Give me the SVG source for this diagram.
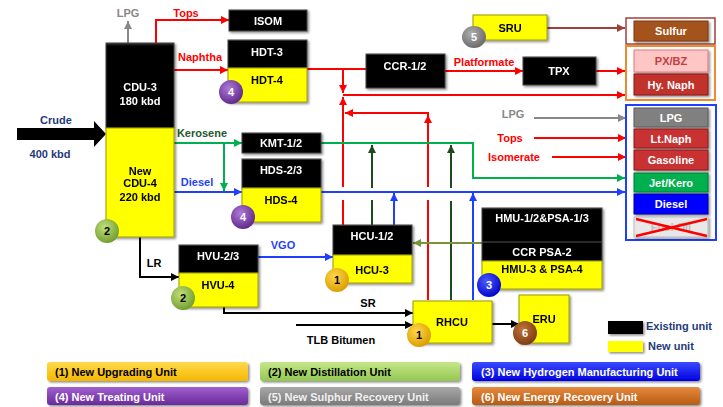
<svg xmlns="http://www.w3.org/2000/svg" width="723" height="407" viewBox="0 0 723 407">
<defs>
<style>
text{font-family:"Liberation Sans",Arial,sans-serif;font-weight:bold;font-size:11px}
.c{text-anchor:middle}
.w{fill:#fff}
.k{fill:#000}
.blk{fill:url(#gblk);stroke:#444;stroke-width:1}
.yel{fill:#ffff00;stroke:#9a9a00;stroke-width:1}
.ln{fill:none;stroke-width:2}
.red{stroke:#ff0000}
.grn{stroke:#00b050}
.blu{stroke:#1f3fff}
.dg{stroke:#1d4a1d}
.gry{stroke:#888}
.bk{stroke:#000}
.olv{stroke:#77933c}
.dr{stroke:#a0403c}
.lbl{font-size:11px}
.bar{font-size:11px}
</style>
<linearGradient id="gblk" x1="0" y1="0" x2="0" y2="1"><stop offset="0" stop-color="#333"/><stop offset="0.04" stop-color="#000"/><stop offset="1" stop-color="#000"/></linearGradient>
<filter id="sh" x="-10%" y="-10%" width="130%" height="130%"><feDropShadow dx="1.5" dy="1.5" stdDeviation="1.2" flood-opacity="0.45"/></filter>
<radialGradient id="bp" cx="0.4" cy="0.35" r="0.7"><stop offset="0" stop-color="#b07ad8"/><stop offset="1" stop-color="#5a2585"/></radialGradient>
<radialGradient id="bg" cx="0.4" cy="0.35" r="0.7"><stop offset="0" stop-color="#c2e07a"/><stop offset="1" stop-color="#6e9a2c"/></radialGradient>
<radialGradient id="by" cx="0.4" cy="0.35" r="0.7"><stop offset="0" stop-color="#ffd84a"/><stop offset="1" stop-color="#d99a00"/></radialGradient>
<radialGradient id="bb" cx="0.4" cy="0.35" r="0.7"><stop offset="0" stop-color="#4a5cff"/><stop offset="1" stop-color="#0000c8"/></radialGradient>
<radialGradient id="bgr" cx="0.4" cy="0.35" r="0.7"><stop offset="0" stop-color="#b0b0b0"/><stop offset="1" stop-color="#666"/></radialGradient>
<radialGradient id="bbr" cx="0.4" cy="0.35" r="0.7"><stop offset="0" stop-color="#c0743a"/><stop offset="1" stop-color="#7a3a10"/></radialGradient>
<marker id="aR" markerUnits="userSpaceOnUse" markerWidth="8" markerHeight="8" refX="8" refY="4" orient="auto"><path d="M0,0 L8,4 L0,8 z" fill="#ff0000"/></marker>
<marker id="aG" markerUnits="userSpaceOnUse" markerWidth="8" markerHeight="8" refX="8" refY="4" orient="auto"><path d="M0,0 L8,4 L0,8 z" fill="#00b050"/></marker>
<marker id="aB" markerUnits="userSpaceOnUse" markerWidth="8" markerHeight="8" refX="8" refY="4" orient="auto"><path d="M0,0 L8,4 L0,8 z" fill="#1f3fff"/></marker>
<marker id="aDG" markerUnits="userSpaceOnUse" markerWidth="8" markerHeight="8" refX="8" refY="4" orient="auto"><path d="M0,0 L8,4 L0,8 z" fill="#1d4a1d"/></marker>
<marker id="aGy" markerUnits="userSpaceOnUse" markerWidth="8" markerHeight="8" refX="8" refY="4" orient="auto"><path d="M0,0 L8,4 L0,8 z" fill="#888"/></marker>
<marker id="aK" markerUnits="userSpaceOnUse" markerWidth="8" markerHeight="8" refX="8" refY="4" orient="auto"><path d="M0,0 L8,4 L0,8 z" fill="#000"/></marker>
<marker id="aO" markerUnits="userSpaceOnUse" markerWidth="8" markerHeight="8" refX="8" refY="4" orient="auto"><path d="M0,0 L8,4 L0,8 z" fill="#77933c"/></marker>
<marker id="aDR" markerUnits="userSpaceOnUse" markerWidth="8" markerHeight="8" refX="8" refY="4" orient="auto"><path d="M0,0 L8,4 L0,8 z" fill="#a0403c"/></marker>
<linearGradient id="g1" x1="0" y1="0" x2="0" y2="1"><stop offset="0" stop-color="#ffd94d"/><stop offset="1" stop-color="#f5b800"/></linearGradient>
<linearGradient id="g2" x1="0" y1="0" x2="0" y2="1"><stop offset="0" stop-color="#c6e68a"/><stop offset="1" stop-color="#92c850"/></linearGradient>
<linearGradient id="g3" x1="0" y1="0" x2="0" y2="1"><stop offset="0" stop-color="#3a4cff"/><stop offset="1" stop-color="#0000e0"/></linearGradient>
<linearGradient id="g4" x1="0" y1="0" x2="0" y2="1"><stop offset="0" stop-color="#a060d0"/><stop offset="1" stop-color="#6a2a9a"/></linearGradient>
<linearGradient id="g5" x1="0" y1="0" x2="0" y2="1"><stop offset="0" stop-color="#a8a8a8"/><stop offset="1" stop-color="#7a7a7a"/></linearGradient>
<linearGradient id="g6" x1="0" y1="0" x2="0" y2="1"><stop offset="0" stop-color="#e68a3e"/><stop offset="1" stop-color="#b85a14"/></linearGradient>
</defs>
<rect width="723" height="407" fill="#fff"/>

<g id="connectors">
<path class="ln gry" d="M128,43 V21" marker-end="url(#aGy)"/>
<path class="ln red" d="M156,43 V20 H229" marker-end="url(#aR)"/>
<path class="ln red" d="M174,70 H228" marker-end="url(#aR)"/>
<path class="ln red" d="M307,69 H366"/>
<path class="ln red" d="M343,69 V93" marker-end="url(#aR)"/>
<path class="ln red" d="M343,225 V200 M343,187 V97" marker-end="url(#aR)"/>
<path class="ln red" d="M343,95 H625" marker-end="url(#aR)"/>
<path class="ln red" d="M428,300 V200 M428,187 V113 H345" marker-end="url(#aR)"/>
<path d="M424,123 L428,115 L432,123 z" fill="#ff0000"/>
<path class="ln red" d="M445,71 H523" marker-end="url(#aR)"/>
<path class="ln red" d="M596,71 H625" marker-end="url(#aR)"/>
<path class="ln dr" d="M547,28 H625" marker-end="url(#aDR)"/>
<path class="ln grn" d="M174,143 H242" marker-end="url(#aG)"/>
<path class="ln grn" d="M224,143 V191" marker-end="url(#aG)"/>
<path class="ln blu" d="M174,192 H242" marker-end="url(#aB)"/>
<path class="ln grn" d="M321,143 H473 V178 H625" marker-end="url(#aG)"/>
<path class="ln blu" d="M321,192 H625" marker-end="url(#aB)"/>
<path class="ln dg" d="M372,225 V200 M372,188 V145" marker-end="url(#aDG)"/>
<path class="ln dg" d="M451,300 V201 M451,188 V145" marker-end="url(#aDG)"/>
<path class="ln blu" d="M394,225 V193" marker-end="url(#aB)"/>
<path class="ln blu" d="M473,300 V193" marker-end="url(#aB)"/>
<path class="ln olv" d="M482,243 H413" marker-end="url(#aO)"/>
<path class="ln blu" d="M258,257 H333" marker-end="url(#aB)"/>
<path class="ln bk" d="M140,237 V277 H179" marker-end="url(#aK)"/>
<path class="ln bk" d="M224,307 V313 H413" marker-end="url(#aK)"/>
<path class="ln bk" d="M296,325 H413" marker-end="url(#aK)"/>
<path class="ln bk" d="M492,324 H519" marker-end="url(#aK)"/>
<path class="ln gry" d="M534,118 H626" marker-end="url(#aGy)"/>
<path class="ln red" d="M534,138 H626" marker-end="url(#aR)"/>
<path class="ln red" d="M552,157 H626" marker-end="url(#aR)"/>
<polygon points="17,128 94,128 94,121 106,134 94,147 94,140 17,140" fill="#000"/>
</g>

<g id="labels">
<text class="c lbl" x="128" y="17" fill="#888">LPG</text>
<text class="c lbl" x="186" y="17" fill="#ff0000">Tops</text>
<text class="c lbl" x="200" y="61" fill="#ff0000">Naphtha</text>
<text class="c lbl" x="484" y="66" fill="#ff0000">Platformate</text>
<text class="c" x="56" y="124" font-size="12" fill="#1f3a7a">Crude</text>
<text class="c" x="50" y="158" font-size="11" fill="#1f3a7a">400 kbd</text>
<text class="c lbl" x="202" y="137" fill="#1d5a2a">Kerosene</text>
<text class="c lbl" x="197" y="186" fill="#1f3fff">Diesel</text>
<text class="c lbl" x="154" y="267" fill="#000">LR</text>
<text class="c" x="283" y="249" font-size="12" fill="#1f3fff">VGO</text>
<text class="c lbl" x="368" y="307" fill="#000">SR</text>
<text class="c lbl" x="341" y="344" fill="#000">TLB Bitumen</text>
<text class="c lbl" x="513" y="118" fill="#888">LPG</text>
<text class="c lbl" x="510" y="142" fill="#ff0000">Tops</text>
<text class="c lbl" x="514" y="161" fill="#ff0000">Isomerate</text>
</g>

<g id="cdu" filter="url(#sh)">
<rect class="blk" x="106" y="43" width="68" height="85"/>
<rect class="yel" x="106" y="128" width="68" height="109"/>
<text class="c w" x="140" y="91">CDU-3</text>
<text class="c w" x="140" y="105">180 kbd</text>
<text class="c k" x="140" y="175">New</text>
<text class="c k" x="140" y="187">CDU-4</text>
<text class="c k" x="140" y="201">220 kbd</text>
</g>
<g id="isom" filter="url(#sh)"><rect class="blk" x="229" y="10" width="78" height="21"/><text class="c w" x="268" y="25">ISOM</text></g>
<g id="hdt" filter="url(#sh)">
<rect class="blk" x="228" y="40" width="79" height="28"/>
<rect class="yel" x="228" y="68" width="79" height="34"/>
<text class="c w" x="267" y="56">HDT-3</text>
<text class="c k" x="267" y="84">HDT-4</text>
</g>
<g id="ccr" filter="url(#sh)"><rect class="blk" x="366" y="54" width="79" height="34"/><text class="c w" x="405" y="70">CCR-1/2</text></g>
<g id="tpx" filter="url(#sh)"><rect class="blk" x="523" y="57" width="73" height="28"/><text class="c w" x="559" y="75">TPX</text></g>
<g id="sru" filter="url(#sh)"><rect class="yel" x="473" y="15" width="74" height="25"/><text class="c k" x="510" y="32">SRU</text></g>
<g id="kmt" filter="url(#sh)"><rect class="blk" x="242" y="133" width="79" height="20"/><text class="c w" x="281" y="147">KMT-1/2</text></g>
<g id="hds" filter="url(#sh)">
<rect class="blk" x="242" y="159" width="79" height="29"/>
<rect class="yel" x="242" y="188" width="79" height="34"/>
<text class="c w" x="281" y="174">HDS-2/3</text>
<text class="c k" x="281" y="204">HDS-4</text>
</g>
<g id="hvu" filter="url(#sh)">
<rect class="blk" x="179" y="245" width="79" height="28"/>
<rect class="yel" x="179" y="273" width="79" height="34"/>
<text class="c w" x="218" y="260">HVU-2/3</text>
<text class="c k" x="218" y="289">HVU-4</text>
</g>
<g id="hcu" filter="url(#sh)">
<rect class="blk" x="333" y="225" width="79" height="30"/>
<rect class="yel" x="333" y="255" width="79" height="28"/>
<text class="c w" x="372" y="240">HCU-1/2</text>
<text class="c k" x="372" y="274">HCU-3</text>
</g>
<g id="hmu" filter="url(#sh)">
<rect class="blk" x="482" y="208" width="120" height="53"/>
<line x1="482" y1="242" x2="602" y2="242" stroke="#555" stroke-width="1"/>
<rect class="yel" x="482" y="261" width="120" height="28"/>
<text class="c w" x="542" y="222">HMU-1/2&amp;PSA-1/3</text>
<text class="c w" x="542" y="256">CCR PSA-2</text>
<text class="c k" x="542" y="273">HMU-3 &amp; PSA-4</text>
</g>
<g id="rhcu" filter="url(#sh)"><rect class="yel" x="413" y="301" width="79" height="42"/><text class="c k" x="452" y="326">RHCU</text></g>
<g id="eru" filter="url(#sh)"><rect class="yel" x="519" y="295" width="50" height="48"/><text class="c k" x="544" y="323">ERU</text></g>

<g id="badges">
<circle cx="231" cy="92" r="12" fill="url(#bp)"/><text class="c w" x="231" y="96">4</text>
<circle cx="107" cy="231" r="12" fill="url(#bg)"/><text class="c k" x="107" y="235">2</text>
<circle cx="243" cy="217" r="12" fill="url(#bp)"/><text class="c w" x="243" y="221">4</text>
<circle cx="183" cy="298" r="12" fill="url(#bg)"/><text class="c k" x="183" y="302">2</text>
<circle cx="337" cy="280" r="12" fill="url(#by)"/><text class="c k" x="337" y="284">1</text>
<circle cx="419" cy="335" r="12" fill="url(#by)"/><text class="c k" x="419" y="339">1</text>
<circle cx="489" cy="285" r="12" fill="url(#bb)"/><text class="c w" x="489" y="289">3</text>
<circle cx="525" cy="333" r="12" fill="url(#bbr)"/><text class="c w" x="525" y="337">6</text>
<ellipse cx="474" cy="37" rx="12" ry="11" fill="url(#bgr)"/><text class="c w" x="474" y="41">5</text>
</g>

<g id="sulfur">
<rect x="626" y="18" width="89" height="26" fill="none" stroke="#a0403c" stroke-width="1.5"/>
<rect x="634" y="21" width="74" height="20" fill="#a4521e" stroke="#7a3a10" filter="url(#sh)"/>
<text class="c w" x="671" y="35">Sulfur</text>
</g>
<g id="aromatics">
<rect x="626" y="46" width="89" height="54" fill="none" stroke="#f08a30" stroke-width="2"/>
<rect x="634" y="50" width="74" height="22" fill="#ffc6c6" stroke="#e07a7a" filter="url(#sh)"/>
<text class="c" x="671" y="65" fill="#c04040">PX/BZ</text>
<rect x="634" y="74" width="74" height="21" fill="#c0302c" stroke="#8a1a18" filter="url(#sh)"/>
<text class="c w" x="671" y="89">Hy. Naph</text>
</g>
<g id="fuels">
<rect x="626" y="105" width="90" height="135" fill="none" stroke="#1f3fff" stroke-width="2"/>
<rect x="634" y="108" width="74" height="19" fill="#808080" stroke="#5a5a5a" filter="url(#sh)"/>
<text class="c w" x="671" y="122">LPG</text>
<rect x="634" y="129" width="74" height="19" fill="#c83232" stroke="#8a1a18" filter="url(#sh)"/>
<text class="c w" x="671" y="143">Lt.Naph</text>
<rect x="634" y="150" width="74" height="20" fill="#c83232" stroke="#8a1a18" filter="url(#sh)"/>
<text class="c w" x="671" y="164">Gasoline</text>
<rect x="634" y="173" width="74" height="19" fill="#00b050" stroke="#007a36" filter="url(#sh)"/>
<text class="c w" x="671" y="187">Jet/Kero</text>
<rect x="634" y="194" width="74" height="20" fill="#0000ff" stroke="#0000a0" filter="url(#sh)"/>
<text class="c w" x="671" y="208">Diesel</text>
<rect x="634" y="217" width="74" height="20" fill="#e8e8e8" stroke="#bbb" filter="url(#sh)"/>
<text class="c" x="671" y="231" fill="#bdbdbd">Fuel Oil</text>
<path d="M636,219 L707,236 M636,236 L707,219" stroke="#ff0000" stroke-width="2.5"/>
</g>

<g id="legend">
<rect x="608" y="321" width="35" height="13" fill="#000" filter="url(#sh)"/>
<text x="646" y="330" font-size="11" fill="#1f3a7a">Existing unit</text>
<rect x="608" y="341" width="35" height="11" fill="#ffff00" filter="url(#sh)"/>
<text x="648" y="350" font-size="11" fill="#1f3a7a">New unit</text>
</g>

<g id="categories">
<rect x="47" y="362" width="201" height="19" rx="3" fill="url(#g1)" filter="url(#sh)"/>
<text class="bar" x="55" y="376" fill="#000">(1) New Upgrading Unit</text>
<rect x="260" y="362" width="200" height="19" rx="3" fill="url(#g2)" filter="url(#sh)"/>
<text class="bar" x="268" y="376" fill="#000">(2) New Distillation Unit</text>
<rect x="472" y="362" width="228" height="19" rx="3" fill="url(#g3)" filter="url(#sh)"/>
<text class="bar" x="481" y="376" fill="#fff">(3) New Hydrogen Manufacturing Unit</text>
<rect x="47" y="387" width="201" height="18" rx="3" fill="url(#g4)" filter="url(#sh)"/>
<text class="bar" x="55" y="401" fill="#fff">(4) New Treating Unit</text>
<rect x="260" y="387" width="200" height="18" rx="3" fill="url(#g5)" filter="url(#sh)"/>
<text class="bar" x="268" y="401" fill="#f0f0f0">(5) New Sulphur Recovery Unit</text>
<rect x="472" y="387" width="228" height="18" rx="3" fill="url(#g6)" filter="url(#sh)"/>
<text class="bar" x="481" y="401" fill="#fff">(6) New Energy Recovery Unit</text>
</g>
</svg>
